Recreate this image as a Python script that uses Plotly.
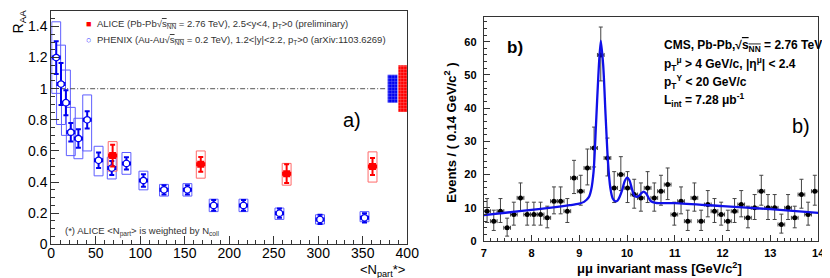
import plotly.graph_objects as go

W, H = 830, 278
FONT = "Liberation Sans, Arial, Helvetica, sans-serif"

# ---------------- Panel a) : R_AA vs <Npart> ----------------
phx_npart = [5.6, 11, 16.5, 22, 30.5, 40.4, 53.2, 68, 84.5, 103.6, 126.7, 153, 182.5, 216, 256.4, 302, 352]
phx_raa = [1.20, 1.03, 0.91, 0.72, 0.68, 0.80, 0.54, 0.49, 0.52, 0.41, 0.35, 0.35, 0.25, 0.25, 0.20, 0.16, 0.17]
phx_stat = [0.105, 0.135, 0.08, 0.06, 0.06, 0.055, 0.05, 0.045, 0.04, 0.04, 0.03, 0.03, 0.035, 0.035, 0.03, 0.03, 0.03]
phx_sys_lo = [0.97, 0.77, 0.70, 0.57, 0.55, 0.60, 0.44, 0.42, 0.45, 0.35, 0.31, 0.31, 0.21, 0.21, 0.16, 0.13, 0.145]
phx_sys_hi = [1.43, 1.28, 1.12, 0.88, 0.81, 0.96, 0.63, 0.56, 0.59, 0.47, 0.385, 0.39, 0.29, 0.29, 0.233, 0.19, 0.21]

alice_npart = [69, 168, 264.5, 361]
alice_raa = [0.57, 0.514, 0.454, 0.50]
alice_stat = [0.07, 0.047, 0.06, 0.055]
alice_sys_lo = [0.47, 0.425, 0.38, 0.40]
alice_sys_hi = [0.66, 0.60, 0.52, 0.594]

glob_x = [383.5, 395]
glob_half = [0.09, 0.15]
glob_width = [11, 10]
unity = 1.0
unity_span = [10, 377]

# ---------------- Panel b) : dimuon invariant mass ----------------
mass = [7.07, 7.21, 7.35, 7.49, 7.63, 7.77, 7.91, 8.05, 8.19, 8.33,
        8.47, 8.61, 8.75, 8.89, 9.03, 9.17, 9.31, 9.45, 9.59, 9.73,
        9.87, 10.01, 10.15, 10.29, 10.43, 10.57, 10.71, 10.85, 10.99, 11.13,
        11.27, 11.41, 11.55, 11.69, 11.83, 11.97, 12.11, 12.25, 12.39, 12.53,
        12.67, 12.81, 12.95, 13.09, 13.23, 13.37, 13.51, 13.65, 13.79, 13.93]
counts = [9, 6, 9, 4, 8, 13, 8, 8, 8, 7,
          12, 12, 9, 19, 15, 22, 28, 56, 25, 16,
          20, 16, 14, 13, 16, 13, 15, 17, 8, 12,
          6, 13, 6, 11, 9, 8, 6, 9, 11, 7,
          10, 15, 10, 10, 5, 10, 7, 14, 8, 15]
err_up = [3.8, 3.3, 3.8, 2.9, 3.7, 4.5, 3.7, 3.7, 3.7, 3.5,
          4.3, 4.3, 3.8, 5.3, 4.8, 5.7, 6.3, 8.4, 6.0, 4.9,
          5.4, 4.9, 4.6, 4.5, 4.9, 4.5, 4.8, 5.0, 3.7, 4.3,
          3.3, 4.5, 3.3, 4.2, 3.8, 3.7, 3.3, 3.8, 4.2, 3.5,
          4.0, 4.8, 4.0, 4.0, 3.1, 4.0, 3.5, 4.6, 3.7, 4.8]
err_dn = [3.4, 2.8, 3.4, 2.5, 3.2, 4.0, 3.2, 3.2, 3.2, 3.0,
          3.8, 3.8, 3.4, 4.7, 4.2, 5.1, 5.7, 7.8, 5.4, 4.4,
          4.8, 4.4, 4.1, 4.0, 4.4, 4.0, 4.2, 4.5, 3.2, 3.8,
          2.8, 4.0, 2.8, 3.7, 3.4, 3.2, 2.8, 3.4, 3.7, 3.0,
          3.5, 4.2, 3.5, 3.5, 2.6, 3.5, 3.0, 4.1, 3.2, 4.2]
half_bin = 0.07

fit_m = [7.0, 7.5, 8.0, 8.5, 8.8, 9.0, 9.1, 9.2, 9.25, 9.3, 9.35, 9.4, 9.45, 9.5, 9.55,
         9.6, 9.65, 9.7, 9.75, 9.8, 9.85, 9.9, 9.95, 10.0, 10.05, 10.1, 10.15, 10.2,
         10.25, 10.3, 10.35, 10.4, 10.45, 10.5, 10.6, 11.0, 12.0, 13.0, 14.0]
fit_y = [7.8, 8.6, 9.4, 10.2, 10.8, 11.3, 11.8, 13.2, 15.5, 21, 35, 50, 60.3, 53, 38,
         24, 16, 12.8, 12.0, 12.2, 13.5, 15.5, 18, 19.1, 18.3, 15.8, 13.7, 13.3,
         13.6, 14.4, 14.9, 14.3, 13.0, 12.0, 11.5, 11.4, 10.5, 9.6, 8.5]

BLUE = "#0000f0"
BLUE_BOX = "#5f5fff"
RED = "#ff0000"
RED_BOX = "#ff6a6a"

fig = go.Figure()

# systematic boxes (PHENIX)
fig.add_trace(go.Bar(
    x=phx_npart, y=[h - l for h, l in zip(phx_sys_hi, phx_sys_lo)], base=phx_sys_lo,
    width=10, marker=dict(color="rgba(0,0,0,0)", line=dict(color=BLUE_BOX, width=1)),
    xaxis="x", yaxis="y", showlegend=False, hoverinfo="skip"))
# systematic boxes (ALICE)
fig.add_trace(go.Bar(
    x=alice_npart, y=[h - l for h, l in zip(alice_sys_hi, alice_sys_lo)], base=alice_sys_lo,
    width=10, marker=dict(color="rgba(0,0,0,0)", line=dict(color=RED_BOX, width=1)),
    xaxis="x", yaxis="y", showlegend=False, hoverinfo="skip"))
# global systematics
glob_colors = [BLUE, RED]
for gx, gh, gw, gc in zip(glob_x, glob_half, glob_width, glob_colors):
    fig.add_trace(go.Bar(
        x=[gx], y=[2 * gh], base=[unity - gh], width=[gw],
        marker=dict(color=gc, line=dict(width=0),
                    pattern=dict(shape="+", fgcolor="white", bgcolor=gc, size=3, solidity=0.25)),
        xaxis="x", yaxis="y", showlegend=False, hoverinfo="skip"))

# reference line at unity
fig.add_trace(go.Scatter(
    x=unity_span, y=[unity, unity], mode="lines",
    line=dict(color="#555555", width=1, dash="5px,2px,1px,2px"),
    xaxis="x", yaxis="y", showlegend=False, hoverinfo="skip"))

# PHENIX points
fig.add_trace(go.Scatter(
    x=phx_npart, y=phx_raa, mode="markers",
    marker=dict(symbol="circle", size=6.5, color="white", line=dict(color=BLUE, width=1.3)),
    error_y=dict(type="data", array=phx_stat, color=BLUE, thickness=2, width=2.5),
    error_x=dict(type="constant", value=4, color=BLUE, thickness=2, width=2),
    xaxis="x", yaxis="y", showlegend=False, name="PHENIX"))
# ALICE points
fig.add_trace(go.Scatter(
    x=alice_npart, y=alice_raa, mode="markers",
    marker=dict(symbol="square", size=7, color=RED),
    error_y=dict(type="data", array=alice_stat, color=RED, thickness=2, width=2.5),
    error_x=dict(type="constant", value=4, color=RED, thickness=2, width=2),
    xaxis="x", yaxis="y", showlegend=False, name="ALICE"))

# Panel b
fig.add_trace(go.Scatter(
    x=mass, y=counts, mode="markers",
    marker=dict(symbol="circle", size=5, color="black"),
    error_y=dict(type="data", symmetric=False, array=err_up, arrayminus=err_dn,
                 color="#444444", thickness=1, width=2),
    error_x=dict(type="constant", value=half_bin, color="#444444", thickness=1, width=2),
    xaxis="x2", yaxis="y2", showlegend=False, name="data"))
fig.add_trace(go.Scatter(
    x=fit_m, y=fit_y, mode="lines", line=dict(color="#1010e8", width=2.3, shape="spline", smoothing=0.8),
    xaxis="x2", yaxis="y2", showlegend=False, name="fit"))


def px(x):
    return x / W


def py(y):
    return 1 - y / H


axis_common = dict(showline=True, mirror=True, linecolor="#333333", linewidth=1,
                   ticks="inside", showgrid=False, zeroline=False, tickcolor="#333333")

fig.update_layout(
    width=W, height=H, margin=dict(l=0, r=0, t=0, b=0),
    paper_bgcolor="white", plot_bgcolor="white", barmode="overlay",
    font=dict(family=FONT, color="black", size=12),
    xaxis=dict(domain=[px(40), px(403)], range=[0, 400], dtick=50, ticklen=8, anchor="y",
               tickfont=dict(size=14, family=FONT), ticklabelstandoff=-4,
               minor=dict(dtick=10, ticklen=4, ticks="inside", tickcolor="#333333"), **axis_common),
    yaxis=dict(domain=[py(243.3), py(3)], range=[0, 1.5], dtick=0.2, ticklen=8, anchor="x",
               tickfont=dict(size=14, family=FONT),
               minor=dict(dtick=0.05, ticklen=4, ticks="inside", tickcolor="#333333"), **axis_common),
    xaxis2=dict(domain=[px(481), px(822)], range=[7, 14], dtick=1, ticklen=6, anchor="y2",
                tickfont=dict(size=11, family=FONT, weight="bold"), ticklabelstandoff=2,
                minor=dict(dtick=1 / 7, ticklen=3, ticks="inside", tickcolor="#333333"), **axis_common),
    yaxis2=dict(domain=[py(240), py(9)], range=[0, 67.5], dtick=10, ticklen=6, anchor="x2",
                tickfont=dict(size=11, family=FONT, weight="bold"), ticklabelstandoff=4,
                minor=dict(dtick=2, ticklen=3, ticks="inside", tickcolor="#333333"), **axis_common),
)

SQ = "√<span style='text-decoration:overline'>s<sub>NN</sub></span>"
ann = []


def add(text, x, y, size, xanchor="left", yanchor="middle", color="black", bold=False, angle=0):
    ann.append(dict(text=text, x=px(x), y=py(y), xref="paper", yref="paper", showarrow=False,
                    xanchor=xanchor, yanchor=yanchor, textangle=angle,
                    font=dict(size=size, color=color, family=FONT, weight="bold" if bold else "normal")))


# legend of panel a
add("<span style='color:#ff0000'>■</span>", 78, 16, 9, xanchor="center")
add("<span style='color:#3030ff'>○</span>", 78, 33, 9, xanchor="center")
add("ALICE (Pb-Pb" + SQ + " = 2.76 TeV), 2.5&lt;y&lt;4, p<sub>T</sub>&gt;0 (preliminary)", 85, 16, 9.5,
    color="#333333")
add("PHENIX (Au-Au" + SQ + " = 0.2 TeV), 1.2&lt;|y|&lt;2.2, p<sub>T</sub>&gt;0 (arXiv:1103.6269)", 85, 33, 9.5,
    color="#333333")
add("(*) ALICE &lt;N<sub>part</sub>&gt; is weighted by N<sub>coll</sub>", 52, 230, 9.5, color="#333333")
add("a)", 347, 115, 20, xanchor="center")
add("R<sub>AA</sub>", 7, 14, 14, xanchor="center", angle=-90)
add("&lt;N<sub>part</sub>*&gt;", 403, 270, 13, xanchor="right")

# panel b texts
add("b)", 513, 41, 17, xanchor="center", bold=True)
add("Events / ( 0.14 GeV/c<sup>2</sup> )", 447, 128, 13, xanchor="center", bold=True, angle=-90)
add("μμ invariant mass [GeV/c<sup>2</sup>]", 660, 268, 13, xanchor="center", bold=True)
add("CMS, Pb-Pb," + SQ + " = 2.76 TeV", 663, 39, 12, bold=True)
add("p<sub>T</sub><sup>μ</sup> &gt; 4 GeV/c, |η<sup>μ</sup>| &lt; 2.4", 663, 57.5, 12, bold=True)
add("p<sub>T</sub><sup>Υ</sup> &lt; 20 GeV/c", 663, 76, 12, bold=True)
add("L<sub>int</sub> = 7.28 μb<sup>-1</sup>", 663, 94.5, 12, bold=True)
add("b)", 805, 121, 20, xanchor="center")

fig.update_layout(annotations=ann)
fig.write_html("out.html")
